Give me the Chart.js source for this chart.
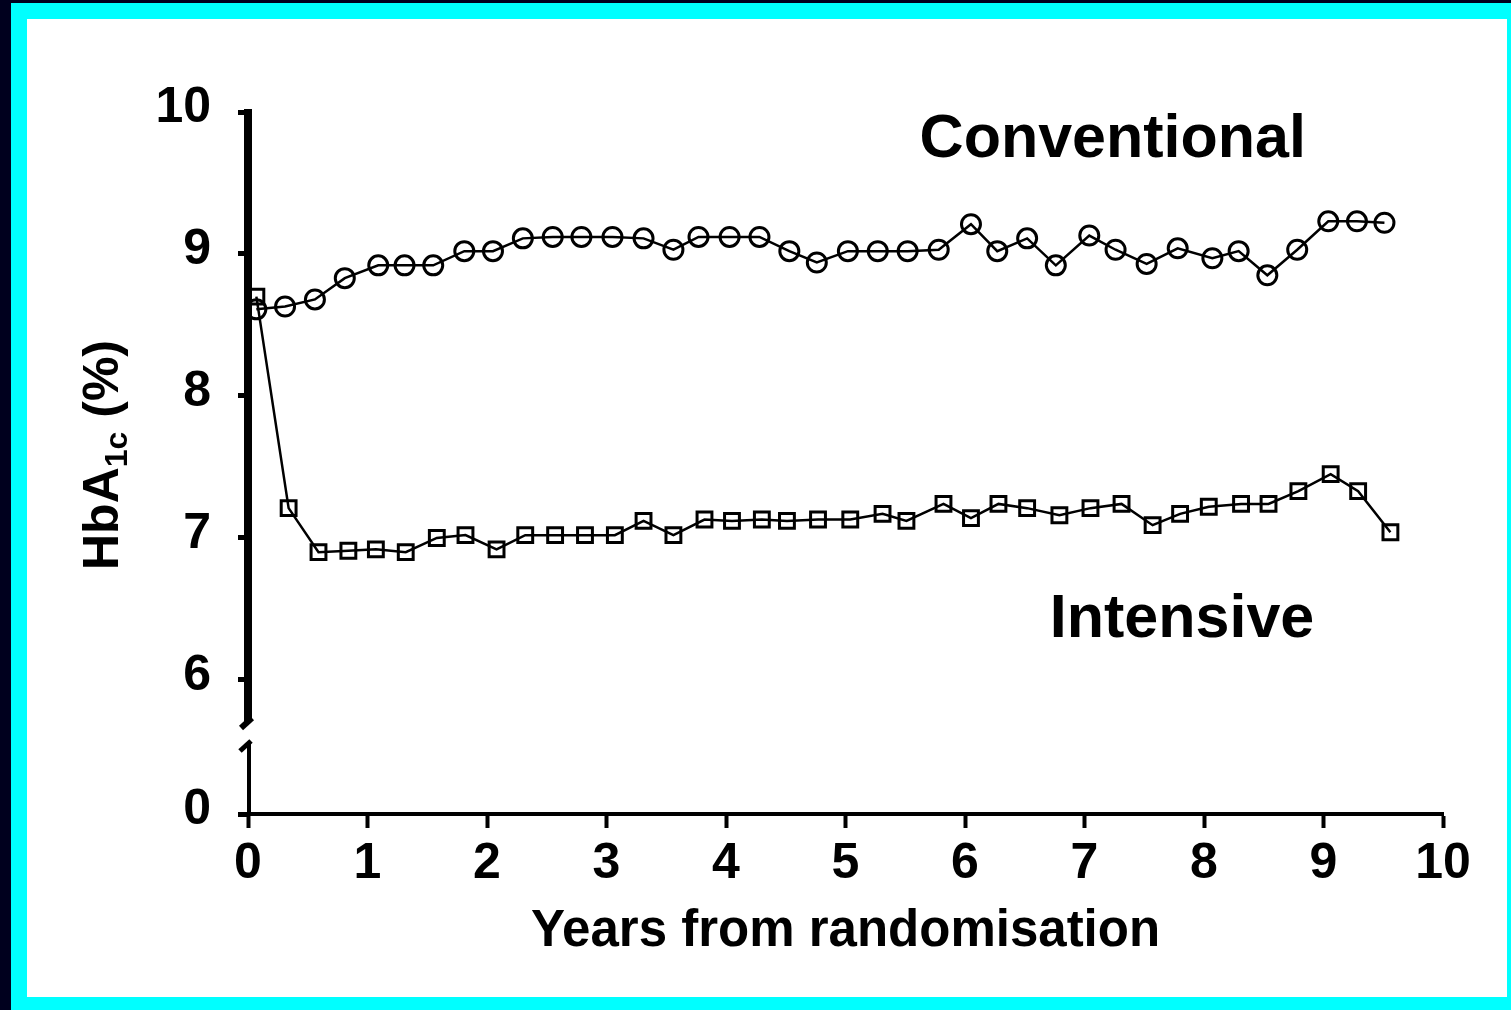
<!DOCTYPE html>
<html lang="en">
<head>
  <meta charset="UTF-8" />
  <title>HbA1c by treatment group</title>
  <script src="https://cdn.jsdelivr.net/npm/chart.js"></script>
  <style>
    html, body {
      margin: 0;
      padding: 0;
      background: #00001e;
      overflow: hidden;
    }
    #frame {
      position: absolute;
      left: 11px;
      top: 3px;
      width: 1500px;
      height: 1007px;
      background: #00ffff;
    }
    #panel {
      position: absolute;
      left: 16px;
      top: 16px;
      width: 1480px;
      height: 978px;
      background: #ffffff;
    }
  </style>
</head>
<body>
  <div id="frame">
    <div id="panel">
      <canvas id="hba1cChart" width="1480" height="978"></canvas>
    </div>
  </div>

  <script>
    // years from randomisation and HbA1c (%) per group
    const conventionalYears = [0.07, 0.31, 0.56, 0.81, 1.09, 1.31, 1.55, 1.81, 2.05, 2.30, 2.55, 2.79, 3.05,
      3.31, 3.56, 3.77, 4.03, 4.28, 4.53, 4.76, 5.02, 5.27, 5.52, 5.78, 6.05, 6.27, 6.52, 6.76, 7.04, 7.26,
      7.52, 7.78, 8.07, 8.29, 8.53, 8.78, 9.04, 9.28, 9.51];
    const conventionalHbA1c = [8.61, 8.63, 8.68, 8.83, 8.92, 8.92, 8.92, 9.02, 9.02, 9.11, 9.12, 9.12, 9.12,
      9.11, 9.03, 9.12, 9.12, 9.12, 9.02, 8.94, 9.02, 9.02, 9.02, 9.03, 9.21, 9.02, 9.11, 8.92, 9.13, 9.03,
      8.93, 9.04, 8.97, 9.02, 8.85, 9.03, 9.23, 9.23, 9.22];

    const intensiveYears = [0.07, 0.34, 0.59, 0.84, 1.07, 1.32, 1.58, 1.82, 2.08, 2.32, 2.57, 2.82, 3.07,
      3.31, 3.56, 3.82, 4.05, 4.30, 4.51, 4.77, 5.04, 5.31, 5.51, 5.82, 6.05, 6.28, 6.52, 6.79, 7.05, 7.31,
      7.57, 7.80, 8.04, 8.31, 8.54, 8.79, 9.06, 9.29, 9.56];
    const intensiveHbA1c = [8.70, 7.21, 6.90, 6.91, 6.92, 6.90, 7.00, 7.02, 6.92, 7.02, 7.02, 7.02, 7.02,
      7.12, 7.02, 7.13, 7.12, 7.13, 7.12, 7.13, 7.13, 7.17, 7.12, 7.24, 7.14, 7.24, 7.21, 7.16, 7.21, 7.24,
      7.09, 7.17, 7.22, 7.24, 7.24, 7.33, 7.45, 7.33, 7.04];

    const xTicks = [0, 1, 2, 3, 4, 5, 6, 7, 8, 9, 10];
    const yTicks = [0, 6, 7, 8, 9, 10];
    const seriesNames = ["Conventional", "Intensive"];

    // the y axis is broken: 0 is drawn just under 6 instead of to scale
    const axisBase = 5.056;
    const toAxis = (v) => (v === 0 ? axisBase : v);

    const FONT = "'Liberation Sans', Arial, sans-serif";
    Chart.defaults.font.family = FONT;
    Chart.defaults.color = "#000";

    const pairs = (xs, ys) => xs.map((x, i) => ({ x: x, y: ys[i] }));

    // y axis line with the break marks, drawn by hand
    const brokenAxis = {
      id: "brokenAxis",
      afterDraw(chart) {
        const ctx = chart.ctx;
        const L = chart.chartArea.left;
        const T = chart.chartArea.top;
        const B = chart.chartArea.bottom;
        ctx.save();
        ctx.strokeStyle = "#000";
        ctx.lineCap = "butt";

        ctx.lineWidth = 8;
        ctx.beginPath();
        ctx.moveTo(L, T - 3);
        ctx.lineTo(L, B - 92);
        ctx.stroke();

        ctx.lineWidth = 6;
        ctx.beginPath();
        ctx.moveTo(L - 7, B - 86);
        ctx.lineTo(L + 4, B - 96);
        ctx.stroke();

        ctx.lineWidth = 5;
        ctx.beginPath();
        ctx.moveTo(L - 8, B - 63);
        ctx.lineTo(L + 3, B - 73);
        ctx.stroke();

        ctx.lineWidth = 4;
        ctx.beginPath();
        ctx.moveTo(L + 1, B - 70);
        ctx.lineTo(L + 1, B + 2);
        ctx.stroke();
        ctx.restore();
      },
    };

    // y title with subscript and the two group names
    const labels = {
      id: "labels",
      afterDraw(chart) {
        const ctx = chart.ctx;
        const xs = chart.scales.x;
        const ys = chart.scales.y;
        ctx.save();
        ctx.fillStyle = "#000";
        ctx.textBaseline = "alphabetic";
        ctx.textAlign = "left";

        ctx.font = "bold 61px " + FONT;
        ctx.fillText(seriesNames[0], xs.getPixelForValue(5.62), ys.getPixelForValue(9.68));
        ctx.fillText(seriesNames[1], xs.getPixelForValue(6.71), ys.getPixelForValue(6.30));

        const parts = [
          { t: "HbA", size: 50, dy: 0 },
          { t: "1c", size: 32, dy: 9 },
          { t: " (%)", size: 50, dy: 0 },
        ];
        let total = 0;
        parts.forEach((p) => {
          ctx.font = "bold " + p.size + "px " + FONT;
          p.w = ctx.measureText(p.t).width;
          total += p.w;
        });
        ctx.translate(91, (chart.chartArea.top + chart.chartArea.bottom) / 2 - 8);
        ctx.rotate(-Math.PI / 2);
        let x = -total / 2;
        parts.forEach((p) => {
          ctx.font = "bold " + p.size + "px " + FONT;
          ctx.fillText(p.t, x, p.dy);
          x += p.w;
        });
        ctx.restore();
      },
    };

    const ctx = document.getElementById("hba1cChart").getContext("2d");
    const chart = new Chart(ctx, {
      type: "line",
      data: {
        datasets: [
          {
            label: seriesNames[0],
            data: pairs(conventionalYears, conventionalHbA1c),
            borderColor: "#000",
            borderWidth: 2.5,
            backgroundColor: "rgba(0,0,0,0)",
            pointStyle: "circle",
            pointRadius: 9.5,
            pointBorderWidth: 3,
            pointBorderColor: "#000",
            pointBackgroundColor: "rgba(0,0,0,0)",
            tension: 0,
            clip: false,
          },
          {
            label: seriesNames[1],
            data: pairs(intensiveYears, intensiveHbA1c),
            borderColor: "#000",
            borderWidth: 2.5,
            backgroundColor: "rgba(0,0,0,0)",
            pointStyle: "rect",
            pointRadius: 10.5,
            pointBorderWidth: 3,
            pointBorderColor: "#000",
            pointBackgroundColor: "rgba(0,0,0,0)",
            tension: 0,
            clip: false,
          },
        ],
      },
      options: {
        responsive: false,
        animation: false,
        devicePixelRatio: 1,
        layout: { padding: { top: 93, right: 64, left: 0, bottom: 0 } },
        plugins: {
          legend: { display: false },
          tooltip: { enabled: false },
        },
        scales: {
          x: {
            type: "linear",
            min: 0,
            max: 10,
            afterBuildTicks: (scale) => {
              scale.ticks = xTicks.map((v) => ({ value: v }));
            },
            afterFit: (scale) => {
              scale.height = 183;
            },
            ticks: {
              font: { size: 50, weight: "bold" },
              color: "#000",
              padding: 6,
              maxRotation: 0,
              autoSkip: false,
            },
            grid: {
              drawOnChartArea: false,
              drawTicks: true,
              tickLength: 14,
              tickWidth: 4,
              tickColor: "#000",
            },
            border: { display: true, color: "#000", width: 4 },
            title: {
              display: true,
              text: "Years from randomisation",
              font: { size: 51, weight: "bold" },
              color: "#000",
              padding: { top: 0, bottom: 34 },
            },
          },
          y: {
            type: "linear",
            min: axisBase,
            max: 10,
            afterBuildTicks: (scale) => {
              scale.ticks = yTicks.map((v) => ({ value: toAxis(v) }));
            },
            afterFit: (scale) => {
              scale.width = 221;
            },
            ticks: {
              font: { size: 50, weight: "bold" },
              color: "#000",
              padding: 27,
              labelOffset: -4,
              autoSkip: false,
              callback: (value) => (value === axisBase ? "0" : String(value)),
            },
            grid: {
              drawOnChartArea: false,
              drawTicks: true,
              tickLength: 10,
              tickWidth: 5,
              tickColor: "#000",
            },
            border: { display: false },
          },
        },
      },
      plugins: [brokenAxis, labels],
    });
  </script>
</body>
</html>
